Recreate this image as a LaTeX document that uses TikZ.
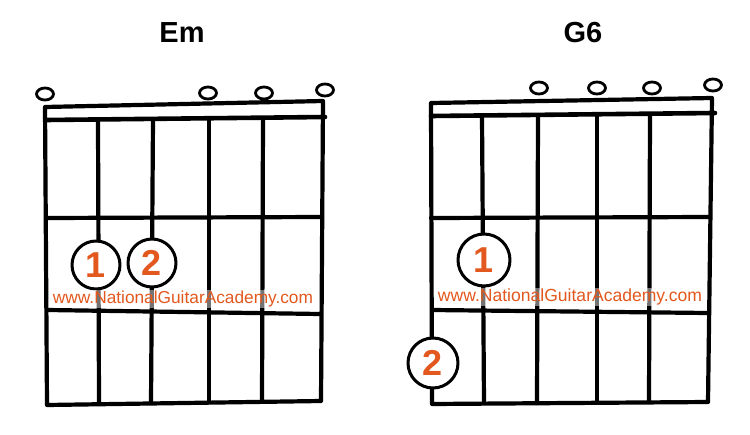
\documentclass[tikz,border=0pt]{standalone}
\usepackage{fontspec}
\usepackage{graphicx}
\usetikzlibrary{shapes.geometric}
\setmainfont{Liberation Sans}
\definecolor{nga}{RGB}{226,88,30}
\begin{document}
\begin{tikzpicture}[x=1pt,y=-1pt,line cap=round,line join=round,
  gridline/.style={line width=4.2pt,black},
  titletext/.style={font=\fontsize{29}{29}\selectfont\bfseries,text=black,inner sep=0pt},
  finger/.style={circle,draw=black,line width=3pt,fill=white,minimum size=48pt,inner sep=0pt,
     text=nga,font=\fontsize{36}{36}\selectfont\bfseries},
  opencirc/.style={ellipse,draw=black,line width=2.8pt,fill=white,minimum width=17pt,minimum height=12pt,inner sep=0pt},
  wmark/.style={text=nga,inner sep=1pt,fill=white,fill opacity=0.45,text opacity=1}
]
\useasboundingbox (0,0) rectangle (750,434);
\fill[white] (0,0) rectangle (750,434);

% ---------- Em ----------
\node[titletext] (emtitle) at (182,33) {Em};
% outer box and nut
\draw[gridline] (45,107) -- (323,101) -- (321,401) -- (47,405) -- cycle;
\draw[gridline,line width=4.6pt] (46,120) -- (325,117);
% strings
\draw[gridline] (98,121) -- (99,404);
\draw[gridline] (153,120) -- (151,403);
\draw[gridline] (209,119) -- (209,402);
\draw[gridline] (263,118) -- (262,401);
% frets
\draw[gridline] (46,218) -- (322,217);
\draw[gridline] (48,310) -- (320,314);
% open strings
\node[opencirc] (emo1) at (45,94) {};
\node[opencirc] (emo4) at (208,93) {};
\node[opencirc] (emo5) at (264,93) {};
\node[opencirc] (emo6) at (325,90) {};
% fingers
\node[finger] (emf1) at (96,265) {1};
\node[finger] (emf2) at (152,263) {2};
% watermark
\node[wmark] (emmark) at (183,299) {\resizebox{260pt}{!}{www.NationalGuitarAcademy.com}};

% ---------- G6 ----------
\node[titletext] (gtitle) at (583,33) {G6};
\draw[gridline] (431,103) -- (712,98) -- (708,402) -- (432,404) -- cycle;
\draw[gridline,line width=4.6pt] (431,116) -- (715,113);
\draw[gridline] (482,116) -- (484,403);
\draw[gridline] (538,116) -- (537,403);
\draw[gridline] (597,115) -- (597,402);
\draw[gridline] (650,114) -- (649,402);
\draw[gridline] (431,218) -- (709,217);
\draw[gridline] (432,310) -- (708,313);
\node[opencirc] (go3) at (539,88) {};
\node[opencirc] (go4) at (597,88) {};
\node[opencirc] (go5) at (652,88) {};
\node[opencirc] (go6) at (713,85) {};
\node[finger,minimum size=52pt] (gf1) at (484,260) {1};
\node[finger,minimum size=50pt] (gf2) at (433,363) {2};
\node[wmark] (gmark) at (570,297) {\resizebox{264pt}{!}{www.NationalGuitarAcademy.com}};
\end{tikzpicture}
\end{document}
